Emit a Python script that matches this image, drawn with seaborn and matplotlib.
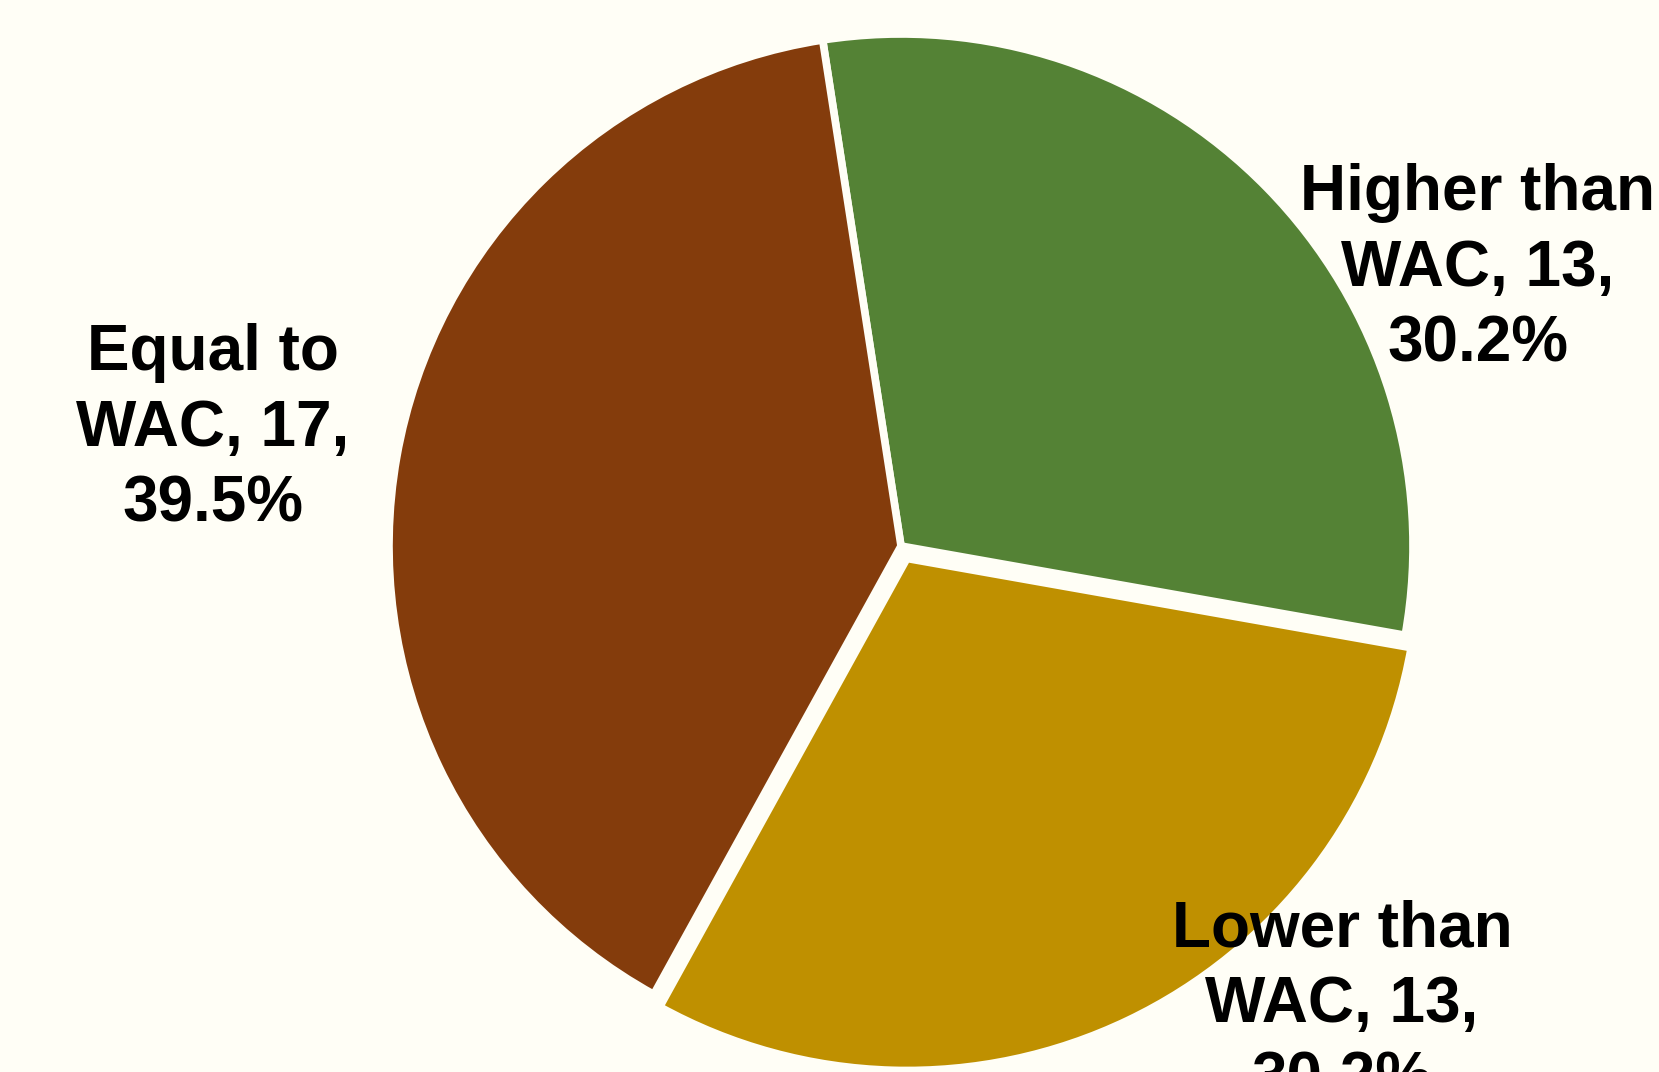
import matplotlib
matplotlib.use("Agg")
import matplotlib.pyplot as plt
import seaborn as sns

# Price comparison against WAC
categories = ["Higher than\nWAC", "Lower than\nWAC", "Equal to\nWAC"]
counts = [13, 13, 17]
percents = ["30.2%", "30.2%", "39.5%"]
colors = ["#548235", "#BF9000", "#843C0C"]
explode = [0.0, 0.027, 0.0]

BG = "#FFFEF6"

sns.set_theme(style="white", palette=sns.color_palette(colors))
plt.rcParams["font.family"] = ["Liberation Sans", "DejaVu Sans"]

W, H = 1659, 1072
fig = plt.figure(figsize=(W / 100, H / 100), dpi=100, facecolor=BG)
ax = fig.add_axes([0, 0, 1, 1])
ax.set_facecolor(BG)

cx, cy, r = 901, 526, 512
# pie offsets are in data units, so scale the explode fractions by the radius
ax.pie(
    counts,
    colors=colors,
    explode=[e * r for e in explode],
    startangle=98.8,
    counterclock=False,
    center=(cx, cy),
    radius=r,
    frame=True,
    wedgeprops=dict(edgecolor=BG, linewidth=5.5),
)
ax.set_xlim(0, W)
ax.set_ylim(0, H)
ax.set_aspect("equal")
ax.axis("off")

label_pos = [(1478, 803), (1342, 67), (213, 643)]
for cat, n, pct, (x, y) in zip(categories, counts, percents, label_pos):
    ax.text(x, y, f"{cat}, {n},\n{pct}", ha="center", va="center",
            fontsize=46, fontweight="bold", color="black",
            linespacing=1.33, clip_on=False)

fig.savefig("out.png", dpi=100, facecolor=BG)
